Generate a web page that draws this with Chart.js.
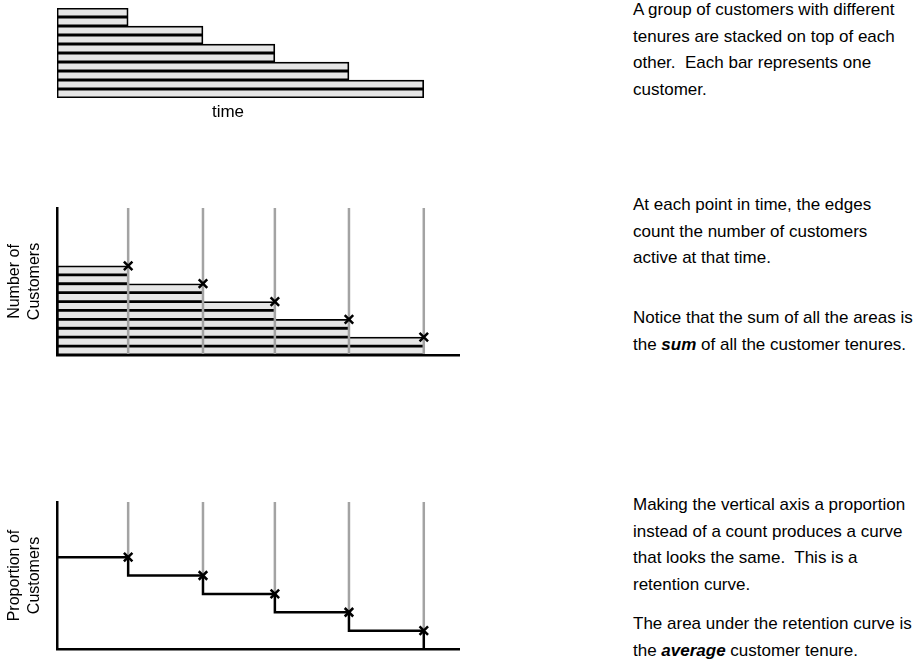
<!DOCTYPE html>
<html>
<head>
<meta charset="utf-8">
<script src="https://cdn.jsdelivr.net/npm/chart.js@4.4.1/dist/chart.umd.min.js"></script>
<style>
  html, body { margin:0; padding:0; background:#fff; width:917px; height:670px; overflow:hidden; }
  body { position:relative; font-family:"Liberation Sans", Arial, Helvetica, sans-serif; color:#000; }
  canvas { position:absolute; left:0; }
  .txt { position:absolute; left:633px; font-size:17px; line-height:26.5px; white-space:pre; }
  .txt b { font-style:italic; }
  .lbl { position:absolute; font-size:17px; line-height:20px; text-align:center; }
</style>
</head>
<body>
<canvas id="c1" width="470" height="130" style="top:0px"></canvas>
<canvas id="c2" width="470" height="180" style="top:190px"></canvas>
<canvas id="c3" width="470" height="190" style="top:480px"></canvas>

<div class="lbl" style="left:178px; top:102px; width:100px;">time</div>

<div class="txt" style="top:-3px">A group of customers with different
tenures are stacked on top of each
other.  Each bar represents one
customer.</div>

<div class="txt" style="top:192px">At each point in time, the edges
count the number of customers
active at that time.</div>
<div class="txt" style="top:305px">Notice that the sum of all the areas is
the <b>sum</b> of all the customer tenures.</div>

<div class="txt" style="top:492px">Making the vertical axis a proportion
instead of a count produces a curve
that looks the same.  This is a
retention curve.</div>
<div class="txt" style="top:611px">The area under the retention curve is
the <b>average</b> customer tenure.</div>

<script>
// ---- data ----
// tenure of each customer, listed from the bottom bar to the top bar (time units)
const customerTenures = [5.0, 5.0, 3.98, 3.98, 2.97, 2.97, 1.99, 1.99, 0.97, 0.97];
// times at which customers stop
const stopTimes = [0.97, 1.99, 2.97, 3.98, 5.0];
// number of customers active at each stop time (top of the step)
const activeCounts = [10, 8, 6, 4, 2];
// proportion of customers remaining at each stop time (top of the step)
const retention = [1.0, 0.8, 0.6, 0.4, 0.2];
const finalRetention = 0;
const yTitleCount = ['Number of', 'Customers'];
const yTitleProp = ['Proportion of', 'Customers'];

// ---- axis ranges ----
const TIME_MAX = 5.48;
const STACK_MAX = customerTenures.length;
const COUNT_MAX = 16.5;
const PROP_MAX = 1.6;

const FONT = '"Liberation Sans", Arial, Helvetica, sans-serif';
const BAR_FILL = '#e6e6e6';
const GRAY = '#a3a3a3';

const commonOpts = {
  responsive: false,
  animation: false,
  events: [],
  plugins: { legend: { display: false }, tooltip: { enabled: false } }
};

function barData(skip) {
  return {
    type: 'bar',
    indexAxis: 'y',
    order: 3,
    data: customerTenures.map((t, i) => ({ x: t, y: i + 0.5 })),
    backgroundColor: BAR_FILL,
    borderColor: '#000',
    borderWidth: 1.75,
    borderSkipped: skip,
    barPercentage: 1,
    categoryPercentage: 1
  };
}

function grayLines(fromVals, toVals) {
  const pts = [];
  stopTimes.forEach((t, i) => {
    pts.push({ x: t, y: fromVals[i] });
    pts.push({ x: t, y: toVals[i] });
    pts.push({ x: t, y: null });
  });
  return {
    type: 'line', order: 2, data: pts,
    borderColor: GRAY, borderWidth: 2.5, pointRadius: 0, spanGaps: false, fill: false, tension: 0
  };
}

function markers(vals) {
  return {
    type: 'line', order: 1, showLine: false,
    data: stopTimes.map((t, i) => ({ x: t, y: vals[i] })),
    pointStyle: 'crossRot', pointRadius: 6, pointBorderWidth: 2.5,
    pointBorderColor: '#000', pointBackgroundColor: '#000', clip: false
  };
}

function axisScales(yMax, title) {
  return {
    x: {
      type: 'linear', min: 0, max: TIME_MAX, offset: false,
      grid: { display: false }, ticks: { display: false },
      border: { display: true, color: '#000', width: 2.5, z: 1 },
      afterFit(s) { s.height = 0; }
    },
    y: {
      type: 'linear', min: 0, max: yMax, offset: false,
      grid: { display: false }, ticks: { display: false },
      border: { display: true, color: '#000', width: 2.5, z: 1 },
      title: {
        display: true, text: title, color: '#000',
        font: { family: FONT, size: 16, lineHeight: 1.25 },
        padding: { top: 5, bottom: 0 }
      },
      afterFit(s) { s.width = 57; }
    }
  };
}

// ---- panel 1: stacked customer bars ----
new Chart(document.getElementById('c1'), {
  type: 'bar',
  data: { datasets: [barData(false)] },
  options: Object.assign({}, commonOpts, {
    indexAxis: 'y',
    layout: { padding: { left: 57, right: 11, top: 8, bottom: 32 } },
    scales: {
      x: { type: 'linear', min: 0, max: TIME_MAX, offset: false, display: false },
      y: { type: 'linear', min: 0, max: STACK_MAX, offset: false, display: false }
    }
  })
});

// ---- panel 2: number of customers ----
new Chart(document.getElementById('c2'), {
  type: 'line',
  data: {
    datasets: [
      markers(activeCounts),
      grayLines(stopTimes.map(() => 0), stopTimes.map(() => COUNT_MAX)),
      barData('end')
    ]
  },
  options: Object.assign({}, commonOpts, {
    layout: { padding: { left: 0, right: 11, top: 18, bottom: 15 } },
    scales: axisScales(COUNT_MAX, yTitleCount)
  })
});

// ---- panel 3: proportion of customers (retention curve) ----
const stepPoints = [{ x: 0, y: retention[0] }].concat(
  stopTimes.map((t, i) => ({ x: t, y: i + 1 < retention.length ? retention[i + 1] : finalRetention }))
);
new Chart(document.getElementById('c3'), {
  type: 'line',
  data: {
    datasets: [
      markers(retention),
      {
        type: 'line', order: 1, data: stepPoints, stepped: true,
        borderColor: '#000', borderWidth: 2.5, pointRadius: 0, fill: false
      },
      grayLines(stopTimes.map(() => PROP_MAX), retention)
    ]
  },
  options: Object.assign({}, commonOpts, {
    layout: { padding: { left: 0, right: 11, top: 22, bottom: 21 } },
    scales: axisScales(PROP_MAX, yTitleProp)
  })
});
</script>
</body>
</html>
